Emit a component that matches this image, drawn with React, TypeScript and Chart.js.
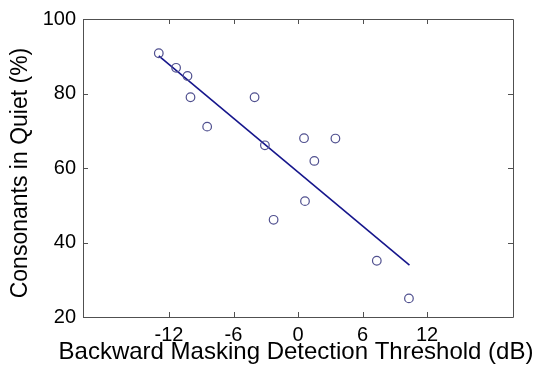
import React, { useEffect, useRef } from "react";
import { Chart, registerables } from "chart.js";

Chart.register(...registerables);

// Scatter data
const thresholdDb = [-12.95, -11.34, -10.28, -10.0, -8.45, -4.04, -3.08, 0.56, 3.48, 1.52, 0.65, -2.27, 7.33, 10.32];
const consonantsPct = [90.8, 86.9, 84.7, 79.0, 71.1, 79.0, 66.1, 68.0, 67.9, 61.9, 51.1, 46.1, 35.1, 25.0];

// Regression line end points
const fitX = [-12.95, 10.37];
const fitY = [90.1, 33.9];

const xTickValues = [-12, -6, 0, 6, 12];
const yTickValues = [20, 40, 60, 80, 100];

const X_TITLE = "Backward Masking Detection Threshold (dB)";
const Y_TITLE = "Consonants in Quiet (%)";

const FONT_FAMILY = "'Liberation Sans', Arial, sans-serif";
const AXIS_COLOR = "#505050";
const TEXT_COLOR = "#000000";
const POINT_COLOR = "#50508f";
const LINE_COLOR = "#16168c";

const framePlugin = {
  id: "frame",
  afterDatasetsDraw(chart: any) {
    const { ctx, chartArea, scales } = chart;
    const { left, right, top, bottom } = chartArea;
    const x = scales.x;
    const y = scales.y;
    const tl = 5;
    ctx.save();
    ctx.strokeStyle = AXIS_COLOR;
    ctx.lineWidth = 1;
    ctx.beginPath();
    ctx.rect(Math.round(left) + 0.5, Math.round(top) + 0.5, Math.round(right - left), Math.round(bottom - top));
    for (const v of xTickValues) {
      const px = Math.round(x.getPixelForValue(v)) + 0.5;
      ctx.moveTo(px, bottom);
      ctx.lineTo(px, bottom - tl);
      ctx.moveTo(px, top);
      ctx.lineTo(px, top + tl);
    }
    for (const v of yTickValues) {
      const py = Math.round(y.getPixelForValue(v)) + 0.5;
      ctx.moveTo(left, py);
      ctx.lineTo(left + tl, py);
      ctx.moveTo(right, py);
      ctx.lineTo(right - tl, py);
    }
    ctx.stroke();

    // axis titles (drawn without Chart.js's maxWidth squeeze)
    ctx.fillStyle = TEXT_COLOR;
    ctx.font = `24px ${FONT_FAMILY}`;
    ctx.textAlign = "center";
    ctx.textBaseline = "alphabetic";
    ctx.fillText(X_TITLE, (left + right) / 2 - 2, x.bottom - 7);

    ctx.font = `23px ${FONT_FAMILY}`;
    ctx.translate(y.left + 27, (top + bottom) / 2 + 5);
    ctx.rotate(-Math.PI / 2);
    ctx.fillText(Y_TITLE, 0, 0);
    ctx.restore();
  },
};

export default function App() {
  const canvasRef = useRef<HTMLCanvasElement | null>(null);

  useEffect(() => {
    const canvas = canvasRef.current;
    if (!canvas) return;
    const chart = new Chart(canvas, {
      type: "scatter",
      data: {
        datasets: [
          {
            type: "scatter",
            label: "data",
            data: thresholdDb.map((v, i) => ({ x: v, y: consonantsPct[i] })),
            pointStyle: "circle",
            pointRadius: 4.3,
            pointBorderWidth: 1.2,
            pointBorderColor: POINT_COLOR,
            pointBackgroundColor: "rgba(0,0,0,0)",
            order: 1,
          },
          {
            type: "line",
            label: "fit",
            data: fitX.map((v, i) => ({ x: v, y: fitY[i] })),
            borderColor: LINE_COLOR,
            borderWidth: 1.6,
            pointRadius: 0,
            fill: false,
            order: 2,
          },
        ],
      },
      options: {
        responsive: false,
        animation: false,
        layout: { padding: { top: 18, right: 22, left: 0, bottom: 0 } },
        plugins: {
          legend: { display: false },
          tooltip: { enabled: false },
        },
        scales: {
          x: {
            type: "linear",
            min: -20,
            max: 20,
            afterBuildTicks: (s: any) => {
              s.ticks = xTickValues.map((v) => ({ value: v }));
            },
            afterFit: (s: any) => {
              s.height = 49;
            },
            grid: { display: false, drawTicks: false },
            border: { display: false },
            ticks: {
              color: TEXT_COLOR,
              padding: 6,
              maxRotation: 0,
              font: { family: FONT_FAMILY, size: 20, lineHeight: 1.2 },
            },
            title: { display: false },
          },
          y: {
            type: "linear",
            min: 20,
            max: 100,
            afterBuildTicks: (s: any) => {
              s.ticks = yTickValues.map((v) => ({ value: v }));
            },
            afterFit: (s: any) => {
              s.width = 83;
            },
            grid: { display: false, drawTicks: false },
            border: { display: false },
            ticks: {
              color: TEXT_COLOR,
              padding: 7,
              font: { family: FONT_FAMILY, size: 20, lineHeight: 1.2 },
            },
            title: { display: false },
          },
        },
      },
      plugins: [framePlugin],
    });
    return () => chart.destroy();
  }, []);

  return (
    <div style={{ position: "fixed", left: 0, top: 0, width: 535, height: 366, background: "#fff" }}>
      <canvas ref={canvasRef} width={535} height={366} style={{ display: "block", width: 535, height: 366 }} />
    </div>
  );
}
